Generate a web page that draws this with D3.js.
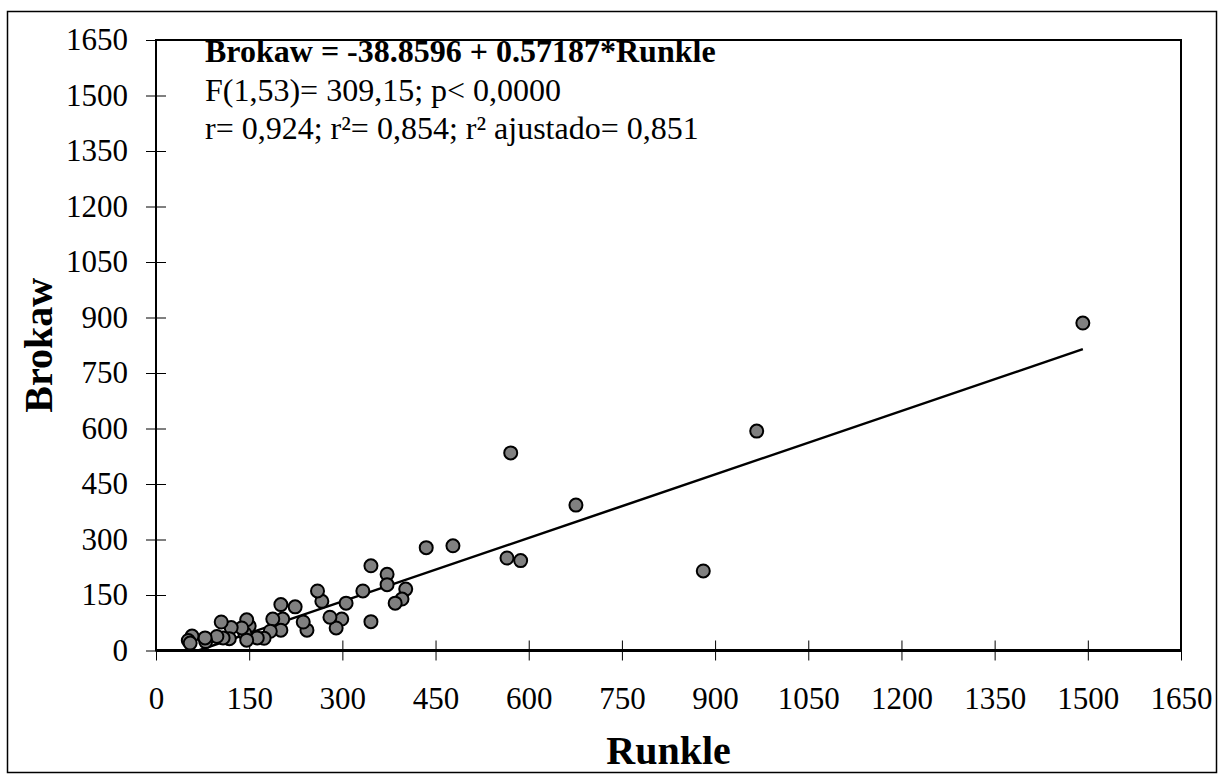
<!DOCTYPE html>
<html>
<head>
<meta charset="utf-8">
<script src="https://cdn.jsdelivr.net/npm/d3@7"></script>
<style>
  html, body { margin: 0; padding: 0; background: #fff; }
  svg { display: block; }
  text { font-family: "Liberation Serif", "Times New Roman", serif; fill: #000; }
</style>
</head>
<body>
<svg id="chart" width="1224" height="780"></svg>
<script>
// Runkle (x) values
const runkle = [1492, 967, 881, 676, 587, 571, 565, 478, 435, 402, 396, 385, 372, 372, 346, 346, 333, 306, 299, 290, 280, 267, 260, 243, 237, 224, 204, 201, 201, 188, 184, 174, 163, 150, 146, 143, 146, 138, 121, 118, 108, 105, 98, 80, 79, 58, 52, 55];
// Brokaw (y) values
const brokaw = [885, 593, 215, 393, 243, 534, 250, 283, 278, 166, 139, 128, 206, 178, 229, 78, 161, 128, 85, 61, 90, 133, 161, 55, 77, 118, 85, 124, 55, 85, 52, 33, 34, 66, 83, 46, 28, 61, 62, 32, 34, 77, 38, 24, 34, 39, 27, 20];
const tickValues = [0, 150, 300, 450, 600, 750, 900, 1050, 1200, 1350, 1500, 1650];
const intercept = -38.8596;
const slope = 0.57187;
const statLines = [
  "Brokaw = -38.8596 + 0.57187*Runkle",
  "F(1,53)= 309,15; p< 0,0000",
  "r= 0,924; r\u00b2= 0,854; r\u00b2 ajustado= 0,851"
];
const xTitle = "Runkle";
const yTitle = "Brokaw";

const svg = d3.select("#chart");
const margin = {left: 156, right: 1224 - 1181, top: 40, bottom: 780 - 650.5};
const W = 1224, H = 780;

// outer frame
svg.append("rect").attr("x", 7.5).attr("y", 11.5).attr("width", 1209).attr("height", 761)
  .attr("fill", "none").attr("stroke", "#000").attr("stroke-width", 1.5);

const x = d3.scaleLinear().domain([0, 1650]).range([margin.left, W - margin.right]);
const y = d3.scaleLinear().domain([0, 1650]).range([H - margin.bottom, margin.top]);

const gx = svg.append("g").attr("transform", `translate(0,${y(0)})`)
  .call(d3.axisBottom(x).tickValues(tickValues).tickSize(10).tickPadding(26).tickFormat(d3.format("d")));
const gy = svg.append("g").attr("transform", `translate(${x(0)},0)`)
  .call(d3.axisLeft(y).tickValues(tickValues).tickSize(10).tickPadding(18).tickFormat(d3.format("d")));

[gx, gy].forEach(g => {
  g.select(".domain").remove();
  g.selectAll("text").style("font-size", "31px").style("font-family", '"Liberation Serif", serif').attr("fill", "#000");
  g.selectAll("line").attr("stroke", "#000").attr("stroke-width", 1);
});
// inner half of ticks
gx.selectAll(".tick line").attr("y1", -10).attr("y2", 10);
gy.selectAll(".tick line").attr("x1", -10).attr("x2", 10);

// plot frame
svg.append("rect").attr("x", x(0)).attr("y", y(1650)).attr("width", x(1650) - x(0)).attr("height", y(0) - y(1650))
  .attr("fill", "none").attr("stroke", "#000").attr("stroke-width", 2);
svg.append("line").attr("x1", x(0)).attr("x2", x(1650)).attr("y1", y(0)).attr("y2", y(0))
  .attr("stroke", "#000").attr("stroke-width", 3);

// clip
svg.append("clipPath").attr("id", "clip").append("rect")
  .attr("x", x(0)).attr("y", y(1650)).attr("width", x(1650) - x(0)).attr("height", y(0) - y(1650));

// regression line
const xmin = d3.min(runkle), xmax = d3.max(runkle);
svg.append("line").attr("clip-path", "url(#clip)")
  .attr("x1", x(xmin)).attr("y1", y(intercept + slope * xmin))
  .attr("x2", x(xmax)).attr("y2", y(intercept + slope * xmax))
  .attr("stroke", "#000").attr("stroke-width", 2.5);

// points
svg.append("g").selectAll("circle").data(runkle.map((r, i) => [r, brokaw[i]])).join("circle")
  .attr("cx", d => x(d[0])).attr("cy", d => y(d[1])).attr("r", 6.5)
  .attr("fill", "#808080").attr("stroke", "#000").attr("stroke-width", 2);

// stats text
const st = svg.append("g");
statLines.forEach((t, i) => {
  st.append("text").attr("x", 205).attr("y", 62 + i * 38.5)
    .style("font-size", "32px")
    .style("font-weight", i === 0 ? "bold" : "normal")
    .text(t);
});

// axis titles
svg.append("text").attr("x", (x(0) + x(1650)) / 2).attr("y", 764).attr("text-anchor", "middle")
  .style("font-size", "40px").style("font-weight", "bold").text(xTitle);
svg.append("text").attr("transform", `translate(52,${(y(0) + y(1650)) / 2}) rotate(-90)`).attr("text-anchor", "middle")
  .style("font-size", "40px").style("font-weight", "bold").text(yTitle);
</script>
</body>
</html>
